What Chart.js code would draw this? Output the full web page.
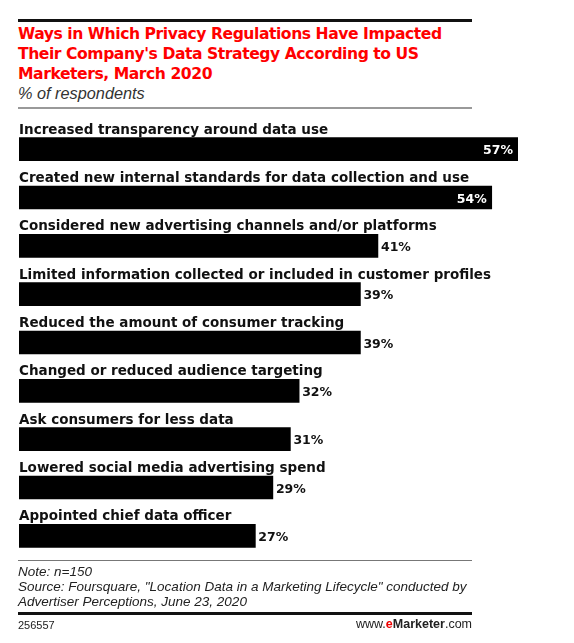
<!DOCTYPE html>
<html lang="en">
  <head>
    <meta charset="UTF-8" />
    <title>Privacy Regulations Impact</title>
    <style>
      body {
          margin: 0;
          width: 574px;
          height: 643px;
          background: white;
          position: relative;
          overflow: hidden;
          font-family: "Liberation Sans", Arial, sans-serif;
      }
      .rule { position: absolute; left: 18px; width: 454px; }
      #title {
          position: absolute; left: 18px; top: 24px;
          color: #ff0000; font-family: "DejaVu Sans", sans-serif; font-weight: bold;
          font-size: 15.6px; line-height: 20px; letter-spacing: -0.45px;
      }
      #subtitle {
          position: absolute; left: 18px; top: 84px;
          font-style: italic; font-size: 16.3px; color: #333;
      }
      #chartWrap { position: absolute; left: 0; top: 110px; width: 574px; height: 455px; }
      #footer {
          position: absolute; left: 18px; top: 564px;
          font-style: italic; font-size: 13.5px; line-height: 15px; color: #222;
      }
      #id { position: absolute; left: 18px; top: 619px; font-size: 11px; color: #222; }
      #site { position: absolute; right: 102px; top: 617px; font-size: 12.5px; color: #222; }
    </style>
    <script src="https://cdn.jsdelivr.net/npm/chart.js@4.4.0/dist/chart.umd.min.js"></script>
  </head>
  <body>
    <div class="rule" style="top:19px; height:3px; background:#111;"></div>
    <div id="title">Ways in Which Privacy Regulations Have Impacted<br />Their Company's Data Strategy According to US<br />Marketers, March 2020</div>
    <div id="subtitle">% of respondents</div>
    <div class="rule" style="top:107px; height:2px; background:#999;"></div>
    <div id="chartWrap"><canvas id="chart"></canvas></div>
    <div class="rule" style="top:560px; height:1px; background:#777;"></div>
    <div id="footer">Note: n=150<br />Source: Foursquare, "Location Data in a Marketing Lifecycle" conducted by<br />Advertiser Perceptions, June 23, 2020</div>
    <div class="rule" style="top:612px; height:3px; background:#111;"></div>
    <div id="id">256557</div>
    <div id="site">www.<span style="color:#e00;font-weight:bold">e</span><b>Marketer</b>.com</div>
    <script>
      const categories = [
        "Increased transparency around data use",
        "Created new internal standards for data collection and use",
        "Considered new advertising channels and/or platforms",
        "Limited information collected or included in customer profiles",
        "Reduced the amount of consumer tracking",
        "Changed or reduced audience targeting",
        "Ask consumers for less data",
        "Lowered social media advertising spend",
        "Appointed chief data officer",
      ];
      const values = [57, 54, 41, 39, 39, 32, 31, 29, 27];

      // draws category text above each bar and the % value at the bar end
      const barLabels = {
        id: "barLabels",
        afterDatasetsDraw(chart) {
          const ctx = chart.ctx;
          const meta = chart.getDatasetMeta(0);
          ctx.save();
          ctx.textBaseline = "alphabetic";
          meta.data.forEach((bar, i) => {
            const top = bar.y - bar.height / 2;
            ctx.font = "bold 13.5px 'DejaVu Sans'";
            ctx.fillStyle = "#111";
            ctx.textAlign = "left";
            ctx.fillText(categories[i], bar.base, top - 4);
            ctx.font = "bold 12.5px 'DejaVu Sans'";
            const txt = values[i] + "%";
            if (values[i] >= 50) {
              ctx.fillStyle = "#fff";
              ctx.textAlign = "right";
              ctx.fillText(txt, bar.x - 5, bar.y + 5);
            } else {
              ctx.fillStyle = "#111";
              ctx.textAlign = "left";
              ctx.fillText(txt, bar.x + 3, bar.y + 5);
            }
          });
          ctx.restore();
        },
      };

      new Chart(document.getElementById("chart"), {
        type: "bar",
        data: {
          labels: categories,
          datasets: [
            {
              data: values,
              backgroundColor: "#000",
              barThickness: 23,
            },
          ],
        },
        options: {
          indexAxis: "y",
          responsive: true,
          maintainAspectRatio: false,
          animation: false,
          layout: { padding: { left: 19, right: 56, top: 15, bottom: 5 } },
          plugins: { legend: { display: false }, tooltip: { enabled: false } },
          scales: {
            x: { display: false, min: 0, max: 57 },
            y: { display: false },
          },
        },
        plugins: [barLabels],
      });
    </script>
  </body>
</html>
